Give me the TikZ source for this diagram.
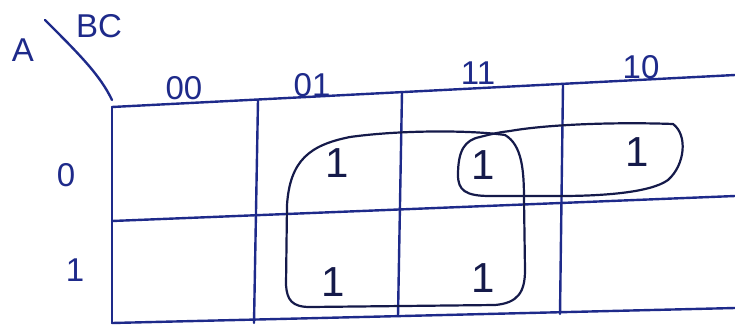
\documentclass[tikz,border=0pt]{standalone}
\usepackage{fontspec}
\setmainfont{Liberation Sans}
\definecolor{ink}{HTML}{1E2A8A}
\definecolor{inkdark}{HTML}{151A4A}
\begin{document}
\begin{tikzpicture}[x=1pt,y=-1pt,
  gridline/.style={draw=ink,line width=2.4pt,line cap=round},
  loopline/.style={draw=inkdark,line width=2.2pt,line cap=round,line join=round},
  lbl/.style={text=ink,inner sep=0pt,font=\fontsize{33}{33}\selectfont},
  one/.style={text=inkdark,inner sep=0pt,font=\fontsize{42}{42}\selectfont}]
\useasboundingbox (0,0) rectangle (735,324);
% grid
\draw[gridline] (112,107) -- (735,75);
\draw[gridline] (112,221) -- (735,196);
\draw[gridline] (112,323) -- (735,308);
\draw[gridline] (112,107) -- (112,323);
\draw[gridline] (258,100) -- (254,323);
\draw[gridline] (402,92) -- (398,316);
\draw[gridline] (563,84) -- (560,314);
% diagonal corner line
\draw[gridline] (45,20) .. controls (80,55) and (100,75) .. (112,100);
% labels
\node[lbl] (a) at (23,50) {A};
\node[lbl] (bc) at (99,26) {BC};
\node[lbl] (c00) at (184,88) {00};
\node[lbl] (c01) at (312,85) {01};
\node[lbl] (c11) at (478,73) {11};
\node[lbl] (c10) at (641,67) {10};
\node[lbl] (r0) at (66,175) {0};
\node[lbl] (r1) at (75,270) {1};
% cell ones
\node[one] (m1) at (337,163) {1};
\node[one] (m3) at (483,165) {1};
\node[one] (m2) at (637,152) {1};
\node[one] (m5) at (333,282) {1};
\node[one] (m7) at (483,278) {1};
% big loop
\draw[loopline] (287,205) .. controls (290,160) and (310,145) .. (350,137)
  .. controls (400,130) and (470,130) .. (505,135)
  .. controls (522,145) and (524,170) .. (524,200)
  -- (525,270) .. controls (525,292) and (518,303) .. (495,305)
  -- (310,307) .. controls (292,307) and (287,300) .. (286,285) -- cycle;
% small loop
\draw[loopline] (510,131) .. controls (550,124) and (620,122) .. (673,124)
  .. controls (688,135) and (685,165) .. (668,180)
  .. controls (650,193) and (600,196) .. (560,196)
  -- (490,196) .. controls (465,196) and (458,190) .. (458,175)
  .. controls (458,150) and (465,140) .. (480,137)
  .. controls (495,133) and (502,132) .. (510,131);
\end{tikzpicture}
\end{document}
